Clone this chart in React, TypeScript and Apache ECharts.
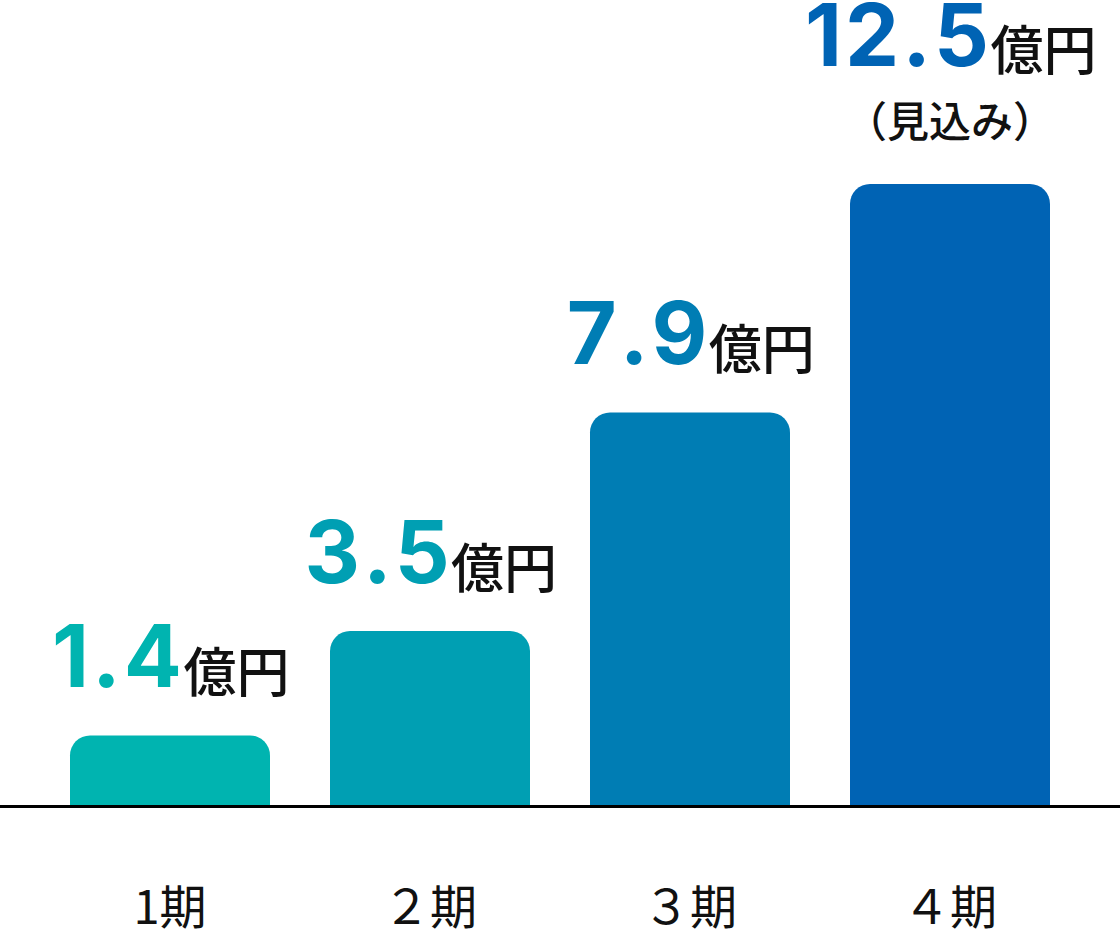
import React, { useEffect, useRef } from "react";
import * as echarts from "echarts";

const categories = ["1期", "２期", "３期", "４期"];
const values = [1.4, 3.5, 7.9, 12.5];
const valueTexts = ["1.4", "3.5", "7.9", "12.5"];
const unitText = "億円";
const notes = ["", "", "", "（見込み）"];
const colors = ["#00b4b0", "#009fb3", "#007db4", "#0063b4"];

export default function App() {
  const ref = useRef<HTMLDivElement>(null);
  useEffect(() => {
    if (!ref.current) return;
    const chart = echarts.init(ref.current, null, { renderer: "svg" });
    const rich: any = {
      unit: {
        fontSize: 53,
        fontWeight: 500,
        fontFamily: "Noto Sans CJK JP",
        color: "#111",
        verticalAlign: "bottom",
        lineHeight: 70,
        padding: [0, 0, 4, 0],
      },
      note: {
        fontSize: 42,
        fontWeight: 500,
        fontFamily: "Noto Sans CJK JP",
        color: "#111",
        lineHeight: 82,
      },
    };
    colors.forEach((c, i) => {
      rich["n" + i] = {
        fontSize: 86,
        fontWeight: 700,
        fontFamily: "Inter",
        color: c,
        lineHeight: 70,
        verticalAlign: "bottom",
        padding: [0, 1.5, 0, 1.5],
      };
    });
    const numTokens = (i: number) =>
      valueTexts[i]
        .split("")
        .map((ch) => `{n${i}|${ch}}`)
        .join("");
    chart.setOption({
      animation: false,
      backgroundColor: "#ffffff",
      grid: { left: 40, right: 40, top: 10, bottom: 127 },
      xAxis: {
        type: "category",
        data: categories,
        axisLine: { show: false },
        axisTick: { show: false },
        axisLabel: {
          margin: 75,
          fontSize: 47,
          lineHeight: 46,
          color: "#111",
          fontFamily: "Noto Sans CJK JP",
        },
      },
      yAxis: {
        type: "value",
        min: 0,
        max: 16,
        show: false,
        splitLine: { show: false },
      },
      graphic: [
        {
          type: "line",
          shape: { x1: 0, y1: 806.5, x2: 1120, y2: 806.5 },
          style: { stroke: "#000", lineWidth: 3 },
          z: 10,
        },
      ],
      series: [
        {
          type: "bar",
          barWidth: 200,
          data: values.map((v, i) => ({
            value: v,
            itemStyle: { color: colors[i], borderRadius: [20, 20, 0, 0] },
            label: {
              show: true,
              position: "top",
              distance: notes[i] ? 24 : 36,
              formatter:
                numTokens(i) +
                `{unit|${unitText}}` +
                (notes[i] ? `\n{note|${notes[i]}}` : ""),
              rich,
            },
          })),
        },
      ],
    });
    return () => chart.dispose();
  }, []);
  return (
    <div
      ref={ref}
      style={{ position: "fixed", left: 0, top: 0, width: 1120, height: 932, background: "#fff" }}
    />
  );
}
